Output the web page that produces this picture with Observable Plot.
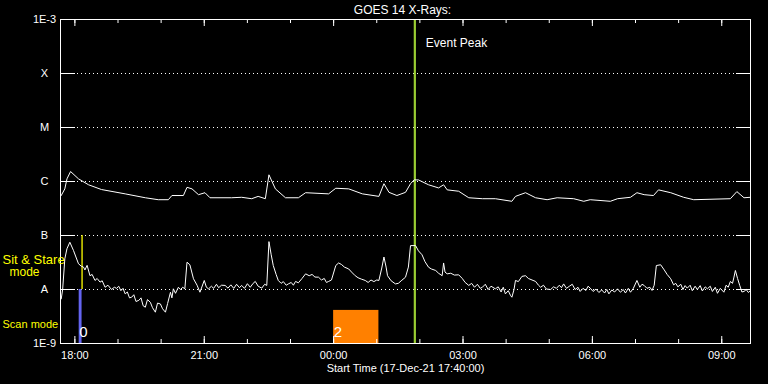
<!DOCTYPE html>
<html><head><meta charset="utf-8">
<script src="https://cdn.jsdelivr.net/npm/d3@7"></script>
<script src="https://cdn.jsdelivr.net/npm/@observablehq/plot@0.6"></script>
<style>html,body{margin:0;padding:0;background:#000;}</style>
</head><body><div id="chart"></div>
<script>
// ---- data ----
const title = "GOES 14 X-Rays:";
const xLabel = "Start Time (17-Dec-21 17:40:00)";
const xDomain = ["17:40", "09:40"];
const majorTickTimes = ["18:00", "21:00", "00:00", "03:00", "06:00", "09:00"];
const hourTickTimes = ["18:00","19:00","20:00","21:00","22:00","23:00","00:00","01:00","02:00","03:00","04:00","05:00","06:00","07:00","08:00","09:00"];
const yLevels = [1e-9, 1e-8, 1e-7, 1e-6, 1e-5, 1e-4, 1e-3];
const yLabels = ["1E-9", "A", "B", "C", "M", "X", "1E-3"];
const gridLevels = [1e-8, 1e-7, 1e-6, 1e-5, 1e-4];
const eventPeak = "01:53";

// long channel (upper curve)
const longSeries = [
["17:41",5.5e-7],["17:46",7.3e-7],["17:49",1.12e-6],["17:54",1.53e-6],["18:05",1.12e-6],["18:19",8.7e-7],
["18:37",7.1e-7],["19:10",5.9e-7],["19:38",5.0e-7],["19:56",4.6e-7],["20:10",4.6e-7],["20:15",5.5e-7],
["20:31",5.5e-7],["20:36",7.8e-7],["20:43",7.3e-7],["20:52",5.7e-7],["21:01",6.2e-7],["21:08",5.0e-7],
["21:38",5.0e-7],["21:52",5.1e-7],["22:06",4.8e-7],["22:15",5.3e-7],["22:25",4.8e-7],["22:30",1.33e-6],
["22:39",7.3e-7],["22:53",5.0e-7],["23:11",5.0e-7],["23:21",6.2e-7],["23:53",5.9e-7],["00:03",7.5e-7],
["00:21",7.3e-7],["00:40",5.9e-7],["01:03",5.3e-7],["01:10",9.1e-7],["01:17",6.3e-7],["01:28",5.5e-7],
["01:40",6.3e-7],["01:47",9.1e-7],["01:52",1.07e-6],["01:58",1.07e-6],["02:12",8.7e-7],["02:26",7.6e-7],
["02:33",8.7e-7],["02:38",7.0e-7],["02:54",6.6e-7],["03:08",5.0e-7],["03:27",4.8e-7],["03:45",4.8e-7],
["04:08",4.3e-7],["04:13",5.3e-7],["04:27",6.2e-7],["04:41",5.0e-7],["04:57",4.6e-7],["05:11",5.0e-7],
["05:34",4.8e-7],["05:48",4.3e-7],["05:57",4.6e-7],["06:25",4.3e-7],["06:35",4.8e-7],["06:53",5.1e-7],
["07:02",6.2e-7],["07:12",5.7e-7],["07:25",5.5e-7],["07:32",7.0e-7],["07:49",6.2e-7],["08:07",5.1e-7],
["08:21",4.6e-7],["09:12",4.8e-7],["09:21",6.5e-7],["09:31",5.0e-7],["09:40",5.1e-7]
];

// short channel (lower curve)
const shortSeries = [
["17:41",6.7e-9],["17:43",1.0e-8],["17:46",3.7e-8],["17:49",5.7e-8],["17:53",7.5e-8],["17:58",5.3e-8],
["18:05",3.0e-8],["18:09",2.7e-8],["18:12",2.6e-8],["18:14",2.3e-8],["18:17",2.8e-8],["18:21",1.8e-8],
["18:24",1.9e-8],["18:28",1.47e-8],["18:31",1.6e-8],["18:35",1.37e-8],["18:38",1.45e-8],["18:42",1.1e-8],
["18:46",1.2e-8],["18:51",1.0e-8],["18:55",1.1e-8],["18:58",1.05e-8],["19:01",1.15e-8],["19:04",9.5e-9],
["19:07",1.05e-8],["19:10",8.3e-9],["19:13",9.0e-9],["19:16",7.0e-9],["19:19",7.2e-9],["19:22",8.0e-9],
["19:25",6.0e-9],["19:29",6.3e-9],["19:32",7.0e-9],["19:35",5.0e-9],["19:38",4.7e-9],["19:41",6.5e-9],
["19:45",5.8e-9],["19:48",4.6e-9],["19:52",3.8e-9],["19:55",5.6e-9],["19:59",5.4e-9],["20:02",4.4e-9],
["20:06",3.8e-9],["20:09",5.5e-9],["20:13",8.9e-9],["20:15",7.0e-9],["20:17",1.03e-8],["20:20",8.5e-9],
["20:24",1.1e-8],["20:27",1.0e-8],["20:30",1.1e-8],["20:33",1.03e-8],["20:36",3.2e-8],["20:40",2.87e-8],
["20:45",1.58e-8],["20:50",1.2e-8],["20:54",8.9e-9],["21:00",1.47e-8],["21:03",1.1e-8],["21:06",1.03e-8],
["21:10",1.15e-8],["21:13",1.05e-8],["21:17",1.25e-8],["21:20",1.08e-8],["21:24",1.2e-8],["21:29",1.19e-8],
["21:33",1.06e-8],["21:37",1.22e-8],["21:41",1.05e-8],["21:45",1.25e-8],["21:49",1.08e-8],["21:52",1.19e-8],
["21:56",1.05e-8],["22:00",1.28e-8],["22:04",1.1e-8],["22:08",1.3e-8],["22:11",1.41e-8],["22:15",1.15e-8],
["22:20",1.06e-8],["22:24",1.25e-8],["22:27",1.19e-8],["22:30",7.7e-8],["22:33",4.5e-8],["22:36",2.78e-8],
["22:40",1.9e-8],["22:43",1.47e-8],["22:47",1.3e-8],["22:50",1.4e-8],["22:54",1.2e-8],["22:57",1.27e-8],
["23:01",1.35e-8],["23:04",1.2e-8],["23:07",1.41e-8],["23:11",1.33e-8],["23:16",1.6e-8],["23:21",1.95e-8],
["23:26",1.8e-8],["23:30",1.9e-8],["23:34",1.7e-8],["23:39",1.69e-8],["23:43",1.5e-8],["23:47",1.6e-8],
["23:50",1.35e-8],["23:53",1.41e-8],["23:57",1.5e-8],["00:03",2.78e-8],["00:07",3.1e-8],["00:11",2.9e-8],
["00:15",2.6e-8],["00:21",2.4e-8],["00:25",2.1e-8],["00:30",1.8e-8],["00:34",1.65e-8],["00:39",1.55e-8],
["00:44",1.47e-8],["00:48",1.35e-8],["00:52",1.5e-8],["00:56",1.4e-8],["01:00",1.5e-8],["01:03",1.47e-8],
["01:07",2.5e-8],["01:10",4.0e-8],["01:13",2.6e-8],["01:15",1.8e-8],["01:20",1.45e-8],["01:26",1.27e-8],
["01:30",1.3e-8],["01:34",1.45e-8],["01:40",1.69e-8],["01:44",2.6e-8],["01:47",6.5e-8],["01:54",6.5e-8],
["01:58",5.2e-8],["02:03",4.4e-8],["02:07",3.3e-8],["02:12",2.59e-8],["02:16",2.4e-8],["02:22",2.25e-8],
["02:26",2.0e-8],["02:31",1.8e-8],["02:33",3.1e-8],["02:35",2.1e-8],["02:38",1.95e-8],["02:43",2.0e-8],
["02:48",1.85e-8],["02:54",1.87e-8],["02:59",1.6e-8],["03:03",1.35e-8],["03:08",1.19e-8],["03:12",1.3e-8],
["03:16",1.1e-8],["03:20",1.25e-8],["03:24",1.05e-8],["03:27",1.1e-8],["03:31",1.25e-8],["03:35",1.0e-8],
["03:39",1.15e-8],["03:45",1.03e-8],["03:49",1.12e-8],["03:53",9.0e-9],["03:56",1.1e-8],["03:59",8.3e-9],
["04:03",9.5e-9],["04:06",7.8e-9],["04:08",7.2e-9],["04:11",1.0e-8],["04:13",1.47e-8],["04:17",1.4e-8],
["04:22",1.75e-8],["04:27",1.8e-8],["04:31",1.6e-8],["04:36",1.5e-8],["04:41",1.41e-8],["04:45",1.2e-8],
["04:48",1.1e-8],["04:52",1.2e-8],["04:56",1.02e-8],["05:02",1.0e-8],["05:06",1.12e-8],["05:10",1.05e-8],
["05:14",1.2e-8],["05:17",1.08e-8],["05:20",1.27e-8],["05:24",1.05e-8],["05:28",1.15e-8],["05:32",1.25e-8],
["05:36",1.0e-8],["05:40",1.1e-8],["05:43",9.2e-9],["05:47",1.05e-8],["05:51",9.6e-9],["05:54",1.15e-8],
["05:57",1.06e-8],["06:01",9.2e-9],["06:05",1.02e-8],["06:09",8.8e-9],["06:13",9.8e-9],["06:17",8.6e-9],
["06:20",1.0e-8],["06:23",8.3e-9],["06:27",9.8e-9],["06:31",9.0e-9],["06:35",1.03e-8],["06:39",8.9e-9],
["06:43",1.0e-8],["06:46",8.6e-9],["06:50",1.05e-8],["06:53",8.9e-9],["06:57",1.05e-8],["07:02",1.47e-8],
["07:06",1.1e-8],["07:09",1.25e-8],["07:12",1.19e-8],["07:16",1.05e-8],["07:20",1.1e-8],["07:23",9.6e-9],
["07:26",1.2e-8],["07:29",2.78e-8],["07:35",2.87e-8],["07:40",2.3e-8],["07:44",1.9e-8],["07:49",1.58e-8],
["07:53",1.22e-8],["07:56",1.3e-8],["07:59",1.12e-8],["08:03",1.25e-8],["08:06",1.0e-8],["08:09",1.18e-8],
["08:12",1.06e-8],["08:16",1.2e-8],["08:19",9.5e-9],["08:23",1.15e-8],["08:26",1.0e-8],["08:30",1.18e-8],
["08:33",9.4e-9],["08:37",1.12e-8],["08:40",1.03e-8],["08:44",1.15e-8],["08:47",9.2e-9],["08:51",1.1e-8],
["08:54",8.5e-9],["08:58",1.05e-8],["09:03",8.9e-9],["09:06",1.2e-8],["09:09",1.1e-8],["09:12",1.41e-8],
["09:15",1.3e-8],["09:17",1.7e-8],["09:19",2.25e-8],["09:22",1.6e-8],["09:25",1.19e-8],["09:28",9.0e-9],
["09:31",9.2e-9],["09:34",1.0e-8],["09:37",8.8e-9],["09:40",9.6e-9]
];

// observing-mode blocks (start, end, top flux, colour, label)
const modeBlocks = [
  ["18:06", "18:10", 1e-8, "#6464f0", "0"],
  ["00:00", "01:03", 4.1e-9, "#ff8000", "2"]
];
const sitStareMarker = ["18:10", 1e-8, 1e-7];

// ---- helpers ----
function toDate(s) {
  const [h, m] = s.split(":").map(Number);
  const day = h >= 17 ? 17 : 18;
  return new Date(Date.UTC(2021, 11, day, h, m));
}
const longData = longSeries.map(([t, v]) => ({t: toDate(t), v}));
const shortData = shortSeries.map(([t, v]) => ({t: toDate(t), v}));
const blocks = modeBlocks.map(([a, b, top, color, label]) => ({x1: toDate(a), x2: toDate(b), y1: 1e-9, y2: top, color, label}));
const majors = majorTickTimes.map(toDate);
const hours = hourTickTimes.map(toDate);
const peak = toDate(eventPeak);
const labelMap = new Map(yLevels.map((v, i) => [v, yLabels[i]]));
const fmt = d3.utcFormat("%H:%M");

const chart = Plot.plot({
  width: 768, height: 384,
  marginLeft: 60, marginRight: 18, marginTop: 19, marginBottom: 41,
  style: {background: "#000", color: "#fff", fontFamily: "'Liberation Sans', Arial, sans-serif", fontSize: "11px"},
  x: {type: "utc", domain: xDomain.map(toDate)},
  y: {type: "log", domain: [1e-9, 1e-3]},
  marks: [
    Plot.ruleY(gridLevels, {stroke: "#fff", strokeDasharray: "1,3", insetLeft: 17, insetRight: 15}),
    Plot.rect(blocks, {x1: "x1", x2: "x2", y1: "y1", y2: "y2", fill: "color"}),
    Plot.text(blocks, {x: "x1", y: "y1", text: "label", fill: "#fff", fontSize: 15, textAnchor: "start", lineAnchor: "middle", dx: 0, dy: -11}),
    Plot.ruleX([sitStareMarker], {x: d => toDate(d[0]), y1: d => d[1], y2: d => d[2], stroke: "#ffff00", strokeWidth: 1.3}),
    Plot.ruleX([peak], {stroke: "#9acd32", strokeWidth: 2.2}),
    Plot.line(longData, {x: "t", y: "v", stroke: "#fff", strokeWidth: 1}),
    Plot.line(shortData, {x: "t", y: "v", stroke: "#fff", strokeWidth: 1}),
    Plot.ruleY(yLevels, {stroke: "#fff", insetRight: 675}),
    Plot.ruleY(yLevels, {stroke: "#fff", insetLeft: 676}),
    Plot.ruleX(hours, {stroke: "#fff", insetTop: 320}),
    Plot.ruleX(hours, {stroke: "#fff", insetBottom: 320}),
    Plot.ruleX(majors, {stroke: "#fff", insetTop: 317}),
    Plot.ruleX(majors, {stroke: "#fff", insetBottom: 317}),
    Plot.frame({stroke: "#fff"}),
    Plot.axisX(majors, {tickSize: 0, tickPadding: 8, tickFormat: d => fmt(d), fontSize: 11, label: null}),
    Plot.axisY(yLevels, {tickSize: 0, tickPadding: 16, textAnchor: "middle", tickFormat: d => labelMap.get(d), fontSize: 11, label: null}),
    Plot.text([title], {text: d => d, frameAnchor: "top", lineAnchor: "middle", dy: -9, dx: -3, fontSize: 12, fill: "#fff"}),
    Plot.text([xLabel], {text: d => d, frameAnchor: "bottom", lineAnchor: "middle", dy: 25, fontSize: 11, fill: "#fff"}),
    Plot.text([peak], {x: d => d, text: () => "Event Peak", frameAnchor: "top", lineAnchor: "middle", dy: 24, dx: 11, textAnchor: "start", fontSize: 12, fill: "#fff"}),
    Plot.text(["Sit & Stare"], {text: d => d, frameAnchor: "top-left", lineAnchor: "middle", dx: -58, dy: 240, textAnchor: "start", fontSize: 13, fill: "#ffff00"}),
    Plot.text(["mode"], {text: d => d, frameAnchor: "top-left", lineAnchor: "middle", dx: -36, dy: 253, textAnchor: "middle", fontSize: 12, fill: "#ffff00"}),
    Plot.text(["Scan mode"], {text: d => d, frameAnchor: "top-left", lineAnchor: "middle", dx: -58, dy: 305, textAnchor: "start", fontSize: 11, fill: "#ffff00"})
  ]
});
document.getElementById("chart").appendChild(chart);
</script>
</body></html>
